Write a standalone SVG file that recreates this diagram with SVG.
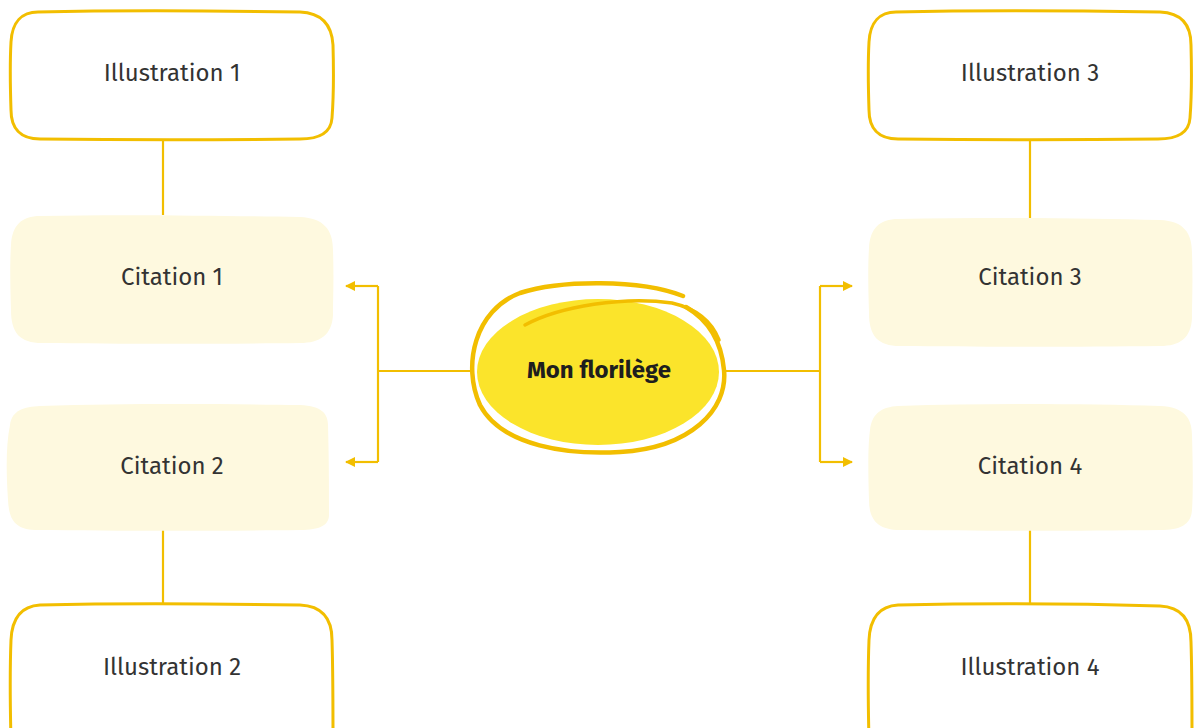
<svg xmlns="http://www.w3.org/2000/svg" width="1196" height="728" viewBox="0 0 1196 728">
<style>
.ill{fill:#ffffff;stroke:#F2BE00;stroke-width:3}
.cit{fill:#FEF9DF;stroke:none}
.lbl{font-family:"Fira Sans","Open Sans","Noto Sans",sans-serif;font-size:24px;fill:#333333;text-anchor:middle;dominant-baseline:central}
.ln{fill:none;stroke:#F2BE00;stroke-width:2.2}
</style>
<defs>
<marker id="ah" viewBox="0 0 10 10" refX="9" refY="5" markerWidth="10" markerHeight="10" markerUnits="userSpaceOnUse" orient="auto">
<path d="M0,0 L10,5 L0,10 z" fill="#F2BE00"/>
</marker>
</defs>
<rect width="1196" height="728" fill="#ffffff"/>
<g id="connectors">
<path class="ln" d="M163,140 V215"/>
<path class="ln" d="M163,530 V603"/>
<path class="ln" d="M1030,140 V218"/>
<path class="ln" d="M1030,530 V603"/>
<path class="ln" d="M472,371 H378"/>
<path class="ln" d="M378,286 V462"/>
<path class="ln" d="M378,286 H346" marker-end="url(#ah)"/>
<path class="ln" d="M378,462 H346" marker-end="url(#ah)"/>
<path class="ln" d="M724,371 H820"/>
<path class="ln" d="M820,286 V462"/>
<path class="ln" d="M820,286 H852" marker-end="url(#ah)"/>
<path class="ln" d="M820,462 H852" marker-end="url(#ah)"/>
</g>
<g id="illustration1">
<path class="ill" d="M38,12 C130,10 230,11 300,12 C325,13 332,28 333,45 C334,80 333,105 332,118 C331,133 318,139 300,139 C220,140 120,140 40,139 C20,139 11,128 11,110 C10,80 10,60 11,42 C12,22 22,12 38,12 z"/>
<text class="lbl" x="172" y="73">Illustration 1</text>
</g>
<g id="citation1">
<path class="cit" d="M40,216 C130,214 230,216 300,217 C324,218 333,230 333,250 C334,280 333,300 333,315 C332,335 320,343 300,343 C220,344 120,344 42,343 C20,343 11,333 11,310 C10,280 10,260 11,245 C12,225 22,216 40,216 z"/>
<text class="lbl" x="172" y="277">Citation 1</text>
</g>
<g id="citation2">
<path class="cit" d="M40,406 C130,403 230,404 300,405 C322,406 328,414 328,425 C329,460 329,490 329,515 C329,525 320,530 300,530 C220,531 120,531 35,530 C15,529 9,520 8,500 C6,470 6,445 10,425 C12,410 24,407 40,406 z"/>
<text class="lbl" x="172" y="466">Citation 2</text>
</g>
<g id="illustration2">
<path class="ill" d="M40,605 C130,603 230,604 300,605 C322,606 332,618 332,640 C333,670 333,700 333,740 L11,740 C10,700 10,665 11,640 C12,618 22,606 40,605 z"/>
<text class="lbl" x="172" y="667">Illustration 2</text>
</g>
<g id="illustration3">
<path class="ill" d="M896,12 C990,10 1090,11 1160,12 C1184,13 1191,28 1191,45 C1192,80 1191,105 1190,118 C1189,133 1176,139 1158,139 C1080,140 980,140 898,139 C878,139 869,128 869,110 C868,80 868,60 869,42 C870,22 880,12 896,12 z"/>
<text class="lbl" x="1030" y="73">Illustration 3</text>
</g>
<g id="citation3">
<path class="cit" d="M898,219 C990,217 1090,218 1160,220 C1184,221 1192,233 1192,253 C1193,283 1192,303 1192,318 C1191,338 1180,346 1160,346 C1080,347 980,347 900,346 C878,346 869,336 869,313 C868,283 868,263 869,248 C870,228 880,219 898,219 z"/>
<text class="lbl" x="1030" y="277">Citation 3</text>
</g>
<g id="citation4">
<path class="cit" d="M898,406 C990,403 1090,404 1160,406 C1184,407 1192,418 1192,435 C1193,470 1193,495 1192,510 C1191,525 1180,530 1160,530 C1080,531 980,531 900,530 C878,530 869,520 869,500 C868,470 868,445 870,430 C872,413 882,407 898,406 z"/>
<text class="lbl" x="1030" y="466">Citation 4</text>
</g>
<g id="illustration4">
<path class="ill" d="M898,605 C990,603 1090,604 1160,606 C1182,607 1191,620 1191,642 C1192,670 1192,700 1192,740 L869,740 C868,700 868,665 869,640 C870,618 880,606 898,605 z"/>
<text class="lbl" x="1030" y="667">Illustration 4</text>
</g>
<g id="center">
<ellipse cx="598" cy="372" rx="121" ry="73" fill="#FBE42B"/>
<path d="M683,296 C640,279 560,280 520,293 C475,310 462,365 480,405 C502,447 570,455 620,452 C690,448 728,410 724,370 C721,338 705,318 686,307" fill="none" stroke="#F2BE00" stroke-width="4.5" stroke-linecap="round"/>
<path d="M525,325 C560,306 625,296 672,303 C698,309 712,322 719,340" fill="none" stroke="#F2BE00" stroke-width="3.5" stroke-linecap="round"/>
<text class="lbl" x="599" y="370" style="font-weight:bold;font-size:24px;fill:#1e1e1e">Mon florilège</text>
</g>
</svg>
